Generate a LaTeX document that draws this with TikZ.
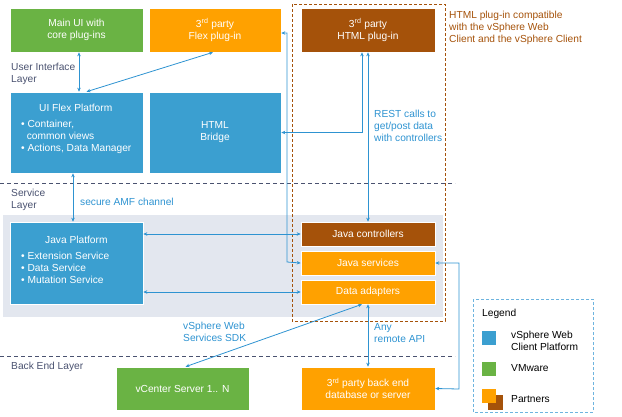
\documentclass[tikz,border=0pt]{standalone}
\usepackage{fontspec}
\setmainfont{Liberation Sans}
\usetikzlibrary{arrows.meta}
\definecolor{vgreen}{HTML}{6AB344}
\definecolor{vorange}{HTML}{FFA100}
\definecolor{vbrown}{HTML}{A5520A}
\definecolor{vblue}{HTML}{3B9FD0}
\definecolor{lblue}{HTML}{2E93D1}
\definecolor{band}{HTML}{E3E7EF}
\definecolor{layer}{HTML}{4A5270}
\begin{document}
\begin{tikzpicture}[x=1pt,y=-1pt,font=\fontsize{10.2}{12}\selectfont,
 box/.style={draw=white,line width=0.6pt,text=white,align=center,inner sep=0pt},
 conn/.style={lblue,line width=0.8pt,{Stealth[length=4pt,width=3.5pt]}-{Stealth[length=4pt,width=3.5pt]}},
 lbl/.style={text=lblue,align=left,anchor=north west,inner sep=0pt},
 lay/.style={text=layer,align=left,anchor=north west,inner sep=0pt},
 sep/.style={layer,dashed,line width=0.8pt,dash pattern=on 4pt off 3pt}]
\useasboundingbox (0,0) rectangle (622,416);
\fill[band] (3,215) rectangle (443,317);
\draw[sep] (0,183) -- (455,183);
\draw[sep] (0,356) -- (455,356);
\draw[vbrown,dashed,line width=0.8pt,dash pattern=on 3pt off 2pt] (292,4) rectangle (445,321);
% boxes
\node[box,fill=vgreen,minimum width=133,minimum height=44] (main) at (76.5,30) {Main UI with\\core plug-ins};
\node[box,fill=vorange,minimum width=132,minimum height=44] (flex) at (215,30) {3\textsuperscript{rd} party\\Flex plug-in};
\node[box,fill=vbrown,minimum width=134,minimum height=44] (html) at (368,30) {3\textsuperscript{rd} party\\HTML plug-in};
\node[box,fill=vblue,minimum width=133,minimum height=81] (uiflex) at (76.5,132.5) {};
\node[text=white,anchor=north west,inner sep=0pt,align=left] (uit) at (21,104) {\hspace*{18pt}UI Flex Platform\\[4pt]\textbullet\ Container,\\\ \ common views\\\textbullet\ Actions, Data Manager};
\node[box,fill=vblue,minimum width=132,minimum height=81] (bridge) at (215,132.5) {HTML\\Bridge};
\node[box,fill=vblue,minimum width=133,minimum height=82] (java) at (76.5,263) {};
\node[text=white,anchor=north west,inner sep=0pt,align=left] (jt) at (21,236) {\hspace*{24pt}Java Platform\\[4pt]\textbullet\ Extension Service\\\textbullet\ Data Service\\\textbullet\ Mutation Service};
\node[box,fill=vbrown,minimum width=134,minimum height=24] (jc) at (368,234) {Java controllers};
\node[box,fill=vorange,minimum width=134,minimum height=24] (js) at (368,263) {Java services};
\node[box,fill=vorange,minimum width=134,minimum height=24] (da) at (368,292) {Data adapters};
\node[box,fill=vgreen,minimum width=133,minimum height=43] (vc) at (182.5,388.5) {vCenter Server 1.. N};
\node[box,fill=vorange,minimum width=134,minimum height=43] (be) at (368,388.5) {3\textsuperscript{rd} party back end\\database or server};
% labels
\node[lay] (l1) at (11,63) {User Interface\\Layer};
\node[lay] (l2) at (11,189) {Service\\Layer};
\node[lay] (l3) at (11,362) {Back End Layer};
\node[lbl] (t1) at (80,198) {secure AMF channel};
\node[lbl] (t2) at (374,110) {REST calls to\\get/post data\\with controllers};
\node[lbl] (t3) at (183,322) {vSphere Web\\Services SDK};
\node[lbl] (t4) at (374,323) {Any\\remote API};
\node[text=vbrown,anchor=north west,inner sep=0pt,align=left] (t5) at (449,11) {HTML plug-in compatible\\with the vSphere Web\\Client and the vSphere Client};
% connectors
\coordinate (a1) at (79,53); \coordinate (a2) at (79,91);
\draw[conn] (main.south -| a1) -- (uiflex.north -| a2);
\draw[conn] ([xshift=-2pt]flex.south) -- ([xshift=10pt]uiflex.north);
\draw[conn] ([yshift=-3pt]flex.east) -| (287,262) -- (js.west);
\draw[conn] ([xshift=-6pt]html.south) |- (bridge.east);
\draw[conn] (html.south) -- (jc.north);
\draw[conn] ([xshift=-3.5pt]uiflex.south) -- ([xshift=-3.5pt]java.north);
\draw[conn] (java.east |- jc) -- (jc.west);
\draw[conn] (java.east |- da) -- (da.west);
\draw[conn] ([xshift=-6pt]da.south) -- ([xshift=3pt]vc.north);
\draw[conn] (da.south) -- (be.north);
\draw[conn] (js.east) -- (459,263) -- (459,389) -- (be.east);
% legend
\draw[lblue!70,dashed,line width=0.7pt,dash pattern=on 3pt off 2pt] (473,299) rectangle (593,412);
\node[anchor=north west,inner sep=0pt] (lg) at (482,309) {Legend};
\node[fill=vblue,draw=white,minimum size=15,inner sep=0pt] (s1) at (489,338) {};
\node[anchor=west,align=left,inner sep=0pt] (s1t) at (511,341) {vSphere Web\\Client Platform};
\node[fill=vgreen,draw=white,minimum size=15,inner sep=0pt] (s2) at (489,368.5) {};
\node[anchor=west,inner sep=0pt] (s2t) at (511,368.5) {VMware};
\node[fill=vbrown,minimum size=15,inner sep=0pt] (s3b) at (495,402) {};
\node[fill=vorange,minimum size=14,inner sep=0pt] (s3) at (488.5,396) {};
\node[anchor=west,inner sep=0pt] (s3t) at (511,399) {Partners};
\end{tikzpicture}
\end{document}
